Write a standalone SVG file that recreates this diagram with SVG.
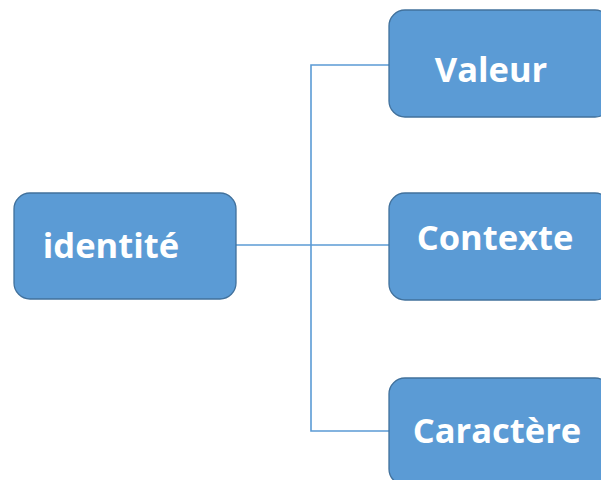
<svg xmlns="http://www.w3.org/2000/svg" width="601" height="480" viewBox="0 0 601 480">
  <style>
    .box { fill: #5b9bd5; stroke: #41719c; stroke-width: 1.3; }
    .label { fill: #ffffff; font-family: "Open Sans", "Liberation Sans", sans-serif; font-weight: bold; font-size: 34.5px; text-anchor: middle; }
    .link { fill: none; stroke: #5b9bd5; stroke-width: 1.6; }
  </style>
  <rect width="601" height="480" fill="#ffffff"/>
  <g id="connectors">
    <path class="link" d="M236 245 H389"/>
    <path class="link" d="M389 65 H311 V431 H389"/>
  </g>
  <g id="identite">
    <rect class="box" x="14" y="193" width="222" height="106" rx="16"/>
    <text class="label" x="111" y="258">identité</text>
  </g>
  <g id="valeur">
    <rect class="box" x="389" y="10" width="222" height="107" rx="16"/>
    <text class="label" x="491" y="82">Valeur</text>
  </g>
  <g id="contexte">
    <rect class="box" x="389" y="193" width="222" height="107" rx="16"/>
    <text class="label" x="495" y="250">Contexte</text>
  </g>
  <g id="caractere">
    <rect class="box" x="389" y="378" width="222" height="107" rx="16"/>
    <text class="label" x="497" y="443">Caractère</text>
  </g>
</svg>
